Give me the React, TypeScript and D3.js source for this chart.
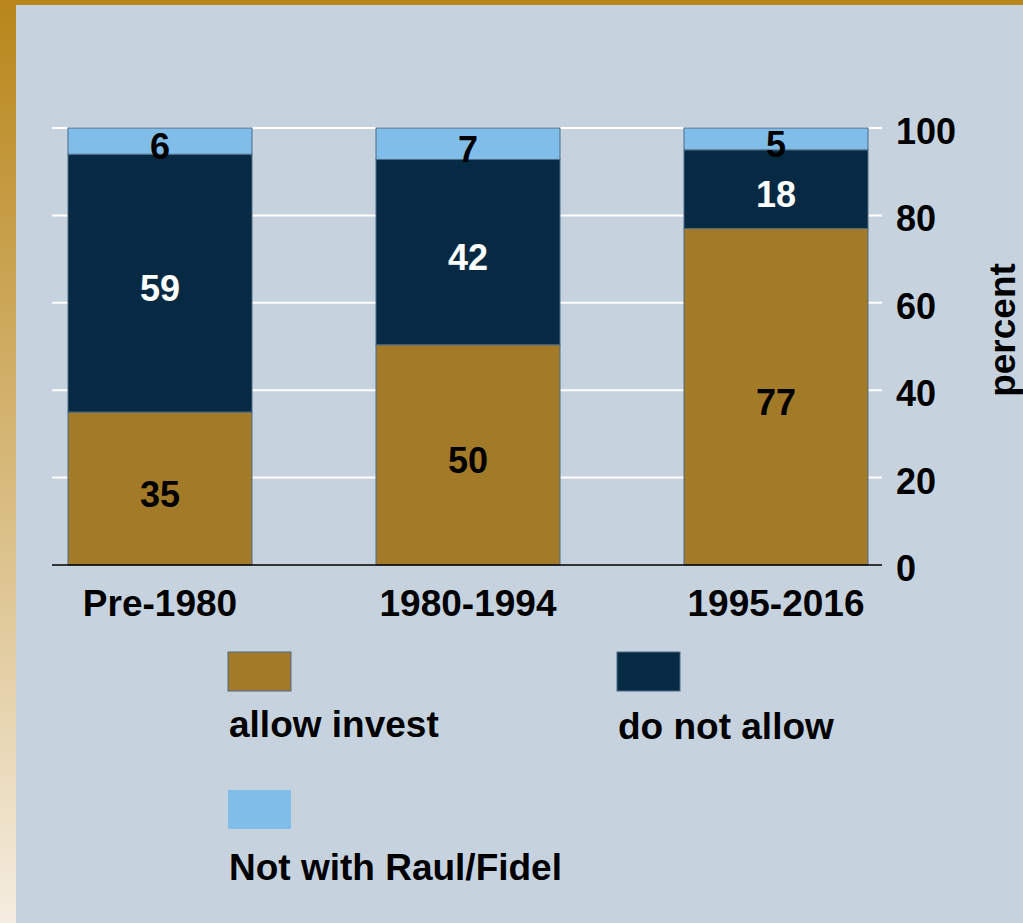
import React, { useEffect, useRef } from "react";
import * as d3 from "d3";

const periods = ["Pre-1980", "1980-1994", "1995-2016"];
const allowInvest = [35, 50.4, 77];
const doNotAllow = [59, 42.4, 18];
const notWithRaulFidel = [6, 7.2, 5];
const yTicks = [0, 20, 40, 60, 80, 100];

const seriesNames = ["allow invest", "do not allow", "Not with Raul/Fidel"];
const seriesColors = ["#a37a28", "#062a43", "#80bde8"];
const labelColors = ["#000", "#fff", "#000"];

const W = 1023;
const H = 923;
const FONT = "'Liberation Sans', Arial, sans-serif";

export default function App() {
  const ref = useRef<SVGSVGElement>(null);

  useEffect(() => {
    const svg = d3.select(ref.current);
    svg.selectAll("*").remove();

    // frame: gold top + gradient strip on the left
    const defs = svg.append("defs");
    const grad = defs
      .append("linearGradient")
      .attr("id", "side")
      .attr("x1", 0)
      .attr("y1", 0)
      .attr("x2", 0)
      .attr("y2", 1);
    grad.append("stop").attr("offset", "0%").attr("stop-color", "#b8861a");
    grad.append("stop").attr("offset", "55%").attr("stop-color", "#d9bd82");
    grad.append("stop").attr("offset", "100%").attr("stop-color", "#f5ede0");

    svg.append("rect").attr("width", W).attr("height", H).attr("fill", "#b8861a");
    svg.append("rect").attr("width", 16).attr("height", H).attr("fill", "url(#side)");
    svg
      .append("rect")
      .attr("x", 16)
      .attr("y", 5)
      .attr("width", W - 16)
      .attr("height", H - 5)
      .attr("fill", "#c6d3df");

    const x = d3
      .scaleBand()
      .domain(periods)
      .range([53, 883])
      .paddingInner(0.4026)
      .paddingOuter(0.0487);
    const y = d3.scaleLinear().domain([0, 100]).range([565, 128]);

    // gridlines (they run on past the last bar and act as tick marks)
    svg
      .append("g")
      .selectAll("line")
      .data(yTicks.filter((t) => t > 0))
      .enter()
      .append("line")
      .attr("x1", 52)
      .attr("x2", 882)
      .attr("y1", (d) => y(d))
      .attr("y2", (d) => y(d))
      .attr("stroke", "#fff")
      .attr("stroke-width", 2);

    const rows = periods.map((p, i) => ({
      period: p,
      "allow invest": allowInvest[i],
      "do not allow": doNotAllow[i],
      "Not with Raul/Fidel": notWithRaulFidel[i],
    }));
    const stacked = d3.stack<any>().keys(seriesNames)(rows);

    stacked.forEach((layer, k) => {
      const g = svg.append("g");
      g.selectAll("rect")
        .data(layer)
        .enter()
        .append("rect")
        .attr("x", (d) => x(d.data.period)!)
        .attr("width", x.bandwidth())
        .attr("y", (d) => y(d[1]))
        .attr("height", (d) => y(d[0]) - y(d[1]))
        .attr("fill", seriesColors[k])
        .attr("stroke", "#4d6a85")
        .attr("stroke-width", 1);
      g.selectAll("text")
        .data(layer)
        .enter()
        .append("text")
        .attr("x", (d) => x(d.data.period)! + x.bandwidth() / 2)
        .attr("y", (d) => (y(d[0]) + y(d[1])) / 2 + 18)
        .attr("text-anchor", "middle")
        .attr("font-family", FONT)
        .attr("font-weight", "bold")
        .attr("font-size", 36)
        .attr("fill", labelColors[k])
        .text((d) => d3.format(".0f")(d[1] - d[0]));
    });

    // baseline
    svg
      .append("line")
      .attr("x1", 52)
      .attr("x2", 882)
      .attr("y1", y(0))
      .attr("y2", y(0))
      .attr("stroke", "#000")
      .attr("stroke-width", 1.5);

    // right axis labels
    svg
      .append("g")
      .selectAll("text")
      .data(yTicks)
      .enter()
      .append("text")
      .attr("x", 896)
      .attr("y", (d) => y(d) + 16)
      .attr("font-family", FONT)
      .attr("font-weight", "bold")
      .attr("font-size", 36)
      .attr("fill", "#000")
      .text((d) => d);

    svg
      .append("text")
      .attr("transform", `translate(1015,330) rotate(-90)`)
      .attr("text-anchor", "middle")
      .attr("font-family", FONT)
      .attr("font-weight", "bold")
      .attr("font-size", 37)
      .attr("fill", "#000")
      .text("percent");

    // category labels
    svg
      .append("g")
      .selectAll("text")
      .data(periods)
      .enter()
      .append("text")
      .attr("x", (d) => x(d)! + x.bandwidth() / 2)
      .attr("y", 616)
      .attr("text-anchor", "middle")
      .attr("font-family", FONT)
      .attr("font-weight", "bold")
      .attr("font-size", 37)
      .attr("fill", "#000")
      .text((d) => d);

    // legend
    const legendPos = [
      { x: 228, y: 652 },
      { x: 617, y: 652 },
      { x: 228, y: 790 },
    ];
    const lg = svg
      .append("g")
      .selectAll("g")
      .data(seriesNames)
      .enter()
      .append("g")
      .attr("transform", (d, i) => `translate(${legendPos[i].x},${legendPos[i].y})`);
    lg.append("rect")
      .attr("width", 63)
      .attr("height", 39)
      .attr("fill", (d, i) => seriesColors[i])
      .attr("stroke", (d, i) => (i === 2 ? "none" : "#4d6a85"))
      .attr("stroke-width", 1);
    lg.append("text")
      .attr("x", 1)
      .attr("y", (d, i) => (i === 1 ? 87 : i === 0 ? 85 : 90))
      .attr("font-family", FONT)
      .attr("font-weight", "bold")
      .attr("font-size", 37)
      .attr("fill", "#000")
      .text((d) => d);
  }, []);

  return (
    <svg
      ref={ref}
      width={W}
      height={H}
      style={{ position: "absolute", left: 0, top: 0, display: "block" }}
    />
  );
}
